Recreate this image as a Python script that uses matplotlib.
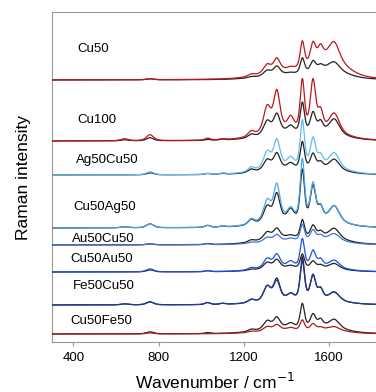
import numpy as np
import matplotlib
matplotlib.use("Agg")
from matplotlib import pyplot as plt

plt.rcParams['font.family'] = ['Liberation Sans', 'DejaVu Sans']

# Raman bands (cm-1) and their widths, last two are the broad humps
band_pos = [640, 760, 1030, 1100, 1235, 1310, 1355, 1420, 1475, 1525, 1560, 1625, 1380, 1600]
band_fwhm = [40, 40, 30, 30, 35, 40, 35, 35, 24, 30, 28, 55, 240, 180]

# sample names, baseline (offset) and label position (pixel-like units)
names = ["Cu50", "Cu100", "Ag50Cu50", "Cu50Ag50", "Au50Cu50", "Cu50Au50", "Fe50Cu50", "Cu50Fe50"]
offsets = [80, 141, 175, 228, 245, 272, 305, 334]
label_x = [417, 417, 412, 398, 393, 384, 398, 384]
label_y = [49, 120, 160, 207, 239, 259, 286, 321]

# band heights: reference spectrum (black) for each sample
black_h = [
    [0, 1, 0, 0, 1, 5, 8, 1, 15, 10, 4, 7, 5, 11],
    [1, 3, 1, 1, 3, 13, 18, 6, 30, 20, 10, 14, 8, 7],
    [0, 2, 1, 1, 3, 10, 15, 5, 27, 15, 6, 10, 6, 5],
    [1, 4, 2, 1, 5, 15, 26, 10, 50, 34, 12, 15, 7, 6],
    [0, 1, 1, 0, 2, 7, 9, 2, 18, 12, 5, 9, 7, 7],
    [0, 2, 1, 0, 1, 6, 8, 2, 14, 7, 3, 5, 4, 3],
    [1, 3, 2, 1, 3, 14, 20, 5, 42, 24, 10, 8, 5, 4],
    [0, 2, 1, 0, 2, 8, 10, 4, 24, 13, 7, 8, 6, 6],
]
# band heights: coloured spectrum for each sample
color_h = [
    [0, 1, 0, 0, 2, 8, 12, 2, 26, 20, 12, 16, 8, 22],
    [2, 6, 2, 1, 5, 25, 38, 12, 50, 50, 18, 18, 10, 8],
    [0, 3, 1, 1, 4, 16, 26, 8, 46, 28, 10, 14, 8, 7],
    [1, 4, 2, 1, 5, 20, 34, 10, 60, 36, 12, 15, 8, 6],
    [0, 1, 1, 0, 1, 4, 6, 2, 16, 10, 4, 6, 4, 5],
    [0, 3, 1, 0, 2, 9, 12, 5, 28, 16, 7, 7, 5, 4],
    [1, 3, 2, 1, 3, 14, 18, 5, 38, 24, 10, 8, 5, 4],
    [0, 1, 0, 0, 1, 4, 5, 2, 10, 6, 2, 3, 4, 4],
]
colors = ["#c0141c", "#c0141c", "#62bdf2", "#4aa8ea", "#3f72d8", "#1d4fe6", "#1f3a99", "#a81c1c"]

x = np.linspace(300, 1830, 1600)


def spectrum(h):
    # pseudo-Voigt bands, half Lorentzian half Gaussian
    y = np.zeros_like(x)
    for p, w, a in zip(band_pos, band_fwhm, h):
        u = (x - p) / (w / 2)
        y += a * (0.5 / (1 + u ** 2) + 0.5 * np.exp(-np.log(2) * u ** 2))
    return y


fig = plt.figure(figsize=(3.76, 3.92), dpi=100)
ax = fig.add_axes([52 / 376, 50 / 392, 326 / 376, 330 / 392])

for i in range(len(names)):
    base = -offsets[i]
    ax.plot(x, base + spectrum(black_h[i]), color="#222222", lw=0.9, zorder=3)
    ax.plot(x, base + spectrum(color_h[i]), color=colors[i], lw=0.9, zorder=3)
    ax.text(label_x[i], -label_y[i], names[i], fontsize=9.5, va="center", ha="left", zorder=1)

ax.set_xlim(300, 1830)
ax.set_ylim(-342, -12)
ax.set_xticks([400, 800, 1200, 1600])
ax.set_yticks([])
for s in ["left", "bottom", "top"]:
    ax.spines[s].set_color("#999999")
ax.spines["right"].set_visible(False)
ax.tick_params(axis="x", direction="out", length=3, color="#999999", labelsize=9.5, pad=4)
ax.set_xlabel("Wavenumber / cm$^{-1}$", fontsize=12.5, labelpad=6)
ax.set_ylabel("Raman intensity", fontsize=12.5, labelpad=15)

fig.savefig("out.png", dpi=100)
